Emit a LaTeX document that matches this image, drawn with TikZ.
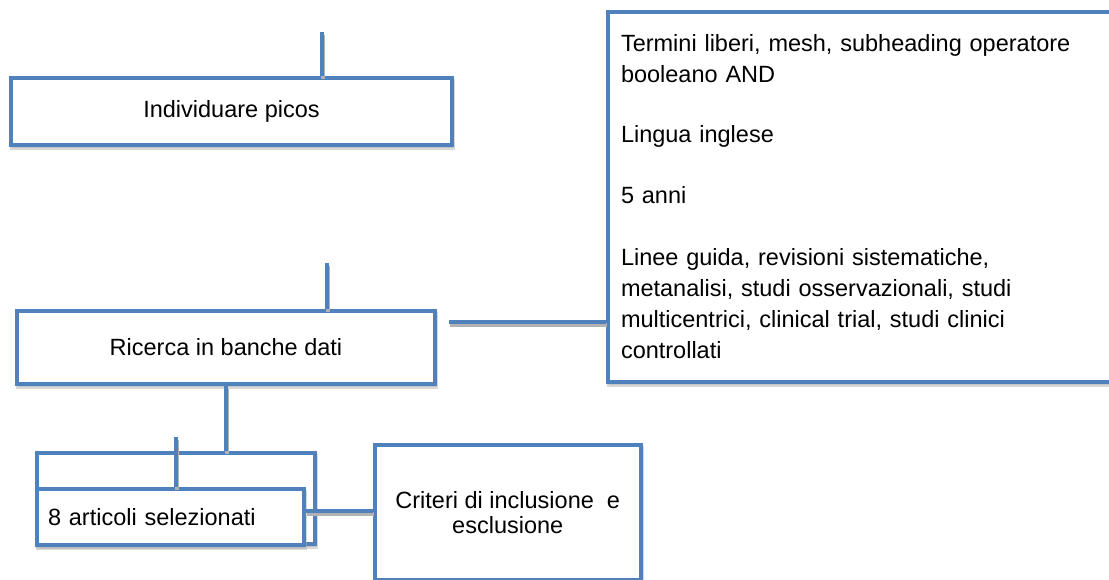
\documentclass[tikz,border=0pt]{standalone}
\usepackage{fontspec}
\setmainfont{Liberation Sans}
\usepackage{tikz}
\usetikzlibrary{shadows,calc}
\definecolor{boxblue}{RGB}{79,129,189}
\tikzset{
  box/.style={draw=boxblue, line width=2pt, fill=white, rectangle, inner sep=0pt,
    font=\fontsize{11.75}{15.5}\selectfont,
    drop shadow={shadow xshift=0.5pt, shadow yshift=-1.5pt, fill=black!30, draw=black!30, line width=2pt}},
  link/.style={draw=boxblue, line width=2pt,
    preaction={draw=black!30, line width=2pt, transform canvas={xshift=0.5pt, yshift=-1.5pt}}}
}

\begin{document}
\begin{tikzpicture}[x=0.5pt, y=-0.5pt]
    \useasboundingbox (0,0) rectangle (1109,579);
    \clip (0,0) rectangle (1109,579);

    % Boxes
    \node[box, minimum width=220.5pt, minimum height=33.5pt] (picos) at (231.5,111) {Individuare picos};
    \node[box, minimum width=208.75pt, minimum height=36.5pt] (ricerca) at (226,347.5) {Ricerca in banche dati};
    \node[box, minimum width=256pt, minimum height=185pt, text width=243pt, align=left] (filtri) at (864,197) {%
      Termini liberi, mesh, subheading operatore\\
      booleano AND\\[14.5pt]
      Lingua inglese\\[15pt]
      5 anni\\[15.5pt]
      Linee guida, revisioni sistematiche,\\
      metanalisi, studi osservazionali, studi\\
      multicentrici, clinical trial, studi clinici\\
      controllati};
    \node[box, minimum width=139pt, minimum height=45.5pt] (articoliback) at (176,498.5) {};
    \node[box, minimum width=133.25pt, minimum height=28.15pt, text width=122.25pt, align=left] (articoli) at (170.25,517) {8 articoli selezionati};
    \node[box, minimum width=132.75pt, minimum height=67.5pt, align=center, font=\fontsize{11.75}{12.5}\selectfont] (criteri) at (507.75,512.5) {Criteri di inclusione\ \ e\\esclusione};

    % Connectors
    \coordinate (picostop) at (321.5,31.7);
    \coordinate (ricercatop) at (326.5,263);
    \coordinate (ricercaout) at (449,322);
    \coordinate (articolitop) at (176,437);
    \coordinate (joint) at (0,510.5);
    \draw[link] (picostop) -- (picostop |- picos.north);
    \draw[link] (ricercatop) -- (ricercatop |- ricerca.north);
    \draw[link] (ricercaout) -- (ricercaout -| filtri.west);
    \draw[link] (ricerca.south) -- (ricerca.south |- articoliback.north);
    \draw[link] (articolitop |- articoli.north) -- (articolitop);
    \draw[link] (articoli.east |- joint) -- (criteri.west |- joint);
\end{tikzpicture}
\end{document}
